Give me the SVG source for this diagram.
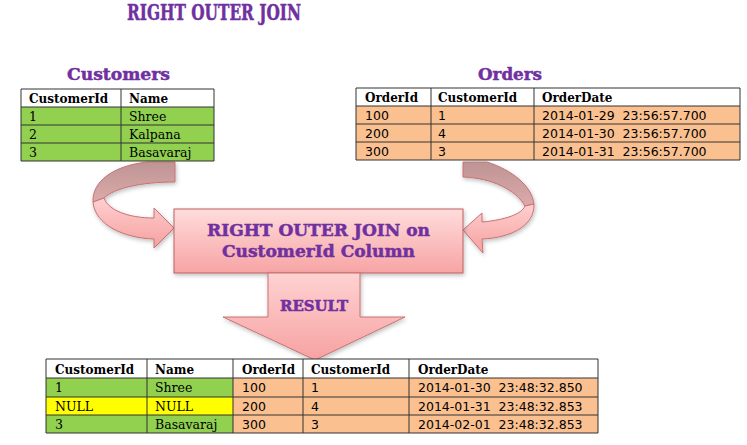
<svg xmlns="http://www.w3.org/2000/svg" width="747" height="445" viewBox="0 0 747 445">
<defs>
<style>
.title{font-family:"DejaVu Serif","Liberation Serif",serif;font-weight:bold;fill:#7030A0;stroke:#7030A0;stroke-width:0.5}
.hd{font-family:"DejaVu Serif","Liberation Serif",serif;font-weight:bold;font-size:12px;fill:#000}
.sr{font-family:"DejaVu Serif","Liberation Serif",serif;font-size:12.5px;fill:#000}
.ss{font-family:"DejaVu Sans","Verdana",sans-serif;font-size:12.5px;fill:#000}
.grid{stroke:#333;stroke-width:1;fill:none}
.arrowline{stroke:#C77272;stroke-width:1}
</style>
<linearGradient id="boxg" x1="0" y1="0" x2="0" y2="1">
<stop offset="0" stop-color="#FFDCDC"/>
<stop offset="1" stop-color="#F7A4A4"/>
</linearGradient>
<linearGradient id="resg" x1="0" y1="0" x2="0" y2="1">
<stop offset="0" stop-color="#FFD2D2"/>
<stop offset="1" stop-color="#F7A2A2"/>
</linearGradient>
<linearGradient id="backg" x1="0" y1="0" x2="0" y2="1">
<stop offset="0" stop-color="#BE9494"/>
<stop offset="1" stop-color="#DDAAAA"/>
</linearGradient>
<linearGradient id="frontg" x1="0" y1="0" x2="0" y2="1">
<stop offset="0" stop-color="#FFD0D0"/>
<stop offset="1" stop-color="#F6A0A0"/>
</linearGradient>
<filter id="sh" x="-10%" y="-10%" width="120%" height="130%">
<feGaussianBlur in="SourceAlpha" stdDeviation="2"/>
<feOffset dx="1" dy="2" result="b"/>
<feFlood flood-color="#000" flood-opacity="0.25"/>
<feComposite in2="b" operator="in"/>
<feMerge><feMergeNode/><feMergeNode in="SourceGraphic"/></feMerge>
</filter>
</defs>
<rect width="747" height="445" fill="#fff"/>

<g id="title">
<text class="title" x="127" y="20" font-size="22" stroke-width="0.9" textLength="174" lengthAdjust="spacingAndGlyphs">RIGHT OUTER JOIN</text>
</g>

<g id="customers-label">
<text class="title" x="67" y="80" font-size="17" textLength="103" lengthAdjust="spacingAndGlyphs">Customers</text>
</g>

<g id="orders-label">
<text class="title" x="478" y="80" font-size="17" textLength="64" lengthAdjust="spacingAndGlyphs">Orders</text>
</g>

<g id="connectors">
<g id="left-curved-arrow" filter="url(#sh)">
<path class="arrowline" fill="url(#backg)" d="M147,162 L175,162 L175,182 C142,182 114,188 104,198 L93,202 C92,182 112,166 147,162 Z"/>
<path class="arrowline" fill="url(#frontg)" d="M93,202 C95,225 124,238 154,239 L154,248 L174,228 L154,208 L154,218 C128,218 108,210 104,198 Z"/>
</g>
<g id="right-curved-arrow" filter="url(#sh)">
<path class="arrowline" fill="url(#backg)" d="M463,162 L487,162 C512,170 532,186 534,204 L525,206 C516,190 492,178 463,177 Z"/>
<path class="arrowline" fill="url(#frontg)" d="M534,204 C535,226 510,238 482,239 L483,253 L463,230 L482,213 L482,222 C505,220 522,214 525,206 Z"/>
</g>
</g>

<g id="join-box">
<rect x="174" y="209" width="289" height="64" fill="url(#boxg)" stroke="#C06060" stroke-width="1" filter="url(#sh)"/>
<text class="title" x="207" y="236" font-size="17" textLength="223" lengthAdjust="spacingAndGlyphs">RIGHT OUTER JOIN on</text>
<text class="title" x="222" y="257" font-size="17" textLength="193" lengthAdjust="spacingAndGlyphs">CustomerId Column</text>
</g>

<g id="result-arrow">
<polygon points="268,273 360,273 360,317 405,317 315,360 223,317 268,317" fill="url(#resg)" stroke="#C77272" stroke-width="1" filter="url(#sh)"/>
<text class="title" x="280" y="311" font-size="14" textLength="68" lengthAdjust="spacingAndGlyphs">RESULT</text>
</g>

<g id="customers-table">
<rect x="21" y="89" width="193" height="18" fill="#fff"/>
<rect x="21" y="107" width="193" height="54" fill="#92D050"/>
<path class="grid" d="M21,89 H214 V161 H21 Z M21,107 H214 M21,125 H214 M21,143 H214 M121,89 V161"/>
<text class="hd" x="29" y="103">CustomerId</text>
<text class="hd" x="129" y="103">Name</text>
<text class="sr" x="29" y="121">1</text><text class="sr" x="129" y="121">Shree</text>
<text class="sr" x="29" y="139">2</text><text class="sr" x="129" y="139">Kalpana</text>
<text class="sr" x="29" y="157">3</text><text class="sr" x="129" y="157">Basavaraj</text>
</g>

<g id="orders-table">
<rect x="356" y="88" width="384" height="18" fill="#fff"/>
<rect x="356" y="106" width="384" height="54" fill="#FAC090"/>
<path class="grid" d="M356,88 H740 V160 H356 Z M356,106 H740 M356,124 H740 M356,142 H740 M431,88 V160 M534,88 V160"/>
<text class="hd" x="365" y="102">OrderId</text>
<text class="hd" x="438" y="102">CustomerId</text>
<text class="hd" x="542" y="102">OrderDate</text>
<text class="ss" x="365" y="120">100</text><text class="ss" x="438" y="120">1</text><text class="ss" x="542" y="120" xml:space="preserve">2014-01-29  23:56:57.700</text>
<text class="ss" x="365" y="138">200</text><text class="ss" x="438" y="138">4</text><text class="ss" x="542" y="138" xml:space="preserve">2014-01-30  23:56:57.700</text>
<text class="ss" x="365" y="156">300</text><text class="ss" x="438" y="156">3</text><text class="ss" x="542" y="156" xml:space="preserve">2014-01-31  23:56:57.700</text>
</g>

<g id="result-table">
<rect x="46" y="359" width="552" height="19" fill="#fff"/>
<rect x="46" y="378" width="187" height="19" fill="#92D050"/>
<rect x="46" y="397" width="187" height="18" fill="#FFFF00"/>
<rect x="46" y="415" width="187" height="18" fill="#92D050"/>
<rect x="233" y="378" width="365" height="55" fill="#FAC090"/>
<path class="grid" d="M46,359 H598 V433 H46 Z M46,378 H598 M46,397 H598 M46,415 H598 M147,359 V433 M233,359 V433 M303,359 V433 M409,359 V433"/>
<text class="hd" x="55" y="374">CustomerId</text>
<text class="hd" x="155" y="374">Name</text>
<text class="hd" x="242" y="374">OrderId</text>
<text class="hd" x="311" y="374">CustomerId</text>
<text class="hd" x="418" y="374">OrderDate</text>
<text class="sr" x="55" y="392">1</text><text class="sr" x="155" y="392">Shree</text>
<text class="ss" x="242" y="392">100</text><text class="ss" x="311" y="392">1</text><text class="ss" x="418" y="392" xml:space="preserve">2014-01-30  23:48:32.850</text>
<text class="sr" x="55" y="411">NULL</text><text class="sr" x="155" y="411">NULL</text>
<text class="ss" x="242" y="411">200</text><text class="ss" x="311" y="411">4</text><text class="ss" x="418" y="411" xml:space="preserve">2014-01-31  23:48:32.853</text>
<text class="sr" x="55" y="429">3</text><text class="sr" x="155" y="429">Basavaraj</text>
<text class="ss" x="242" y="429">300</text><text class="ss" x="311" y="429">3</text><text class="ss" x="418" y="429" xml:space="preserve">2014-02-01  23:48:32.853</text>
</g>
</svg>
